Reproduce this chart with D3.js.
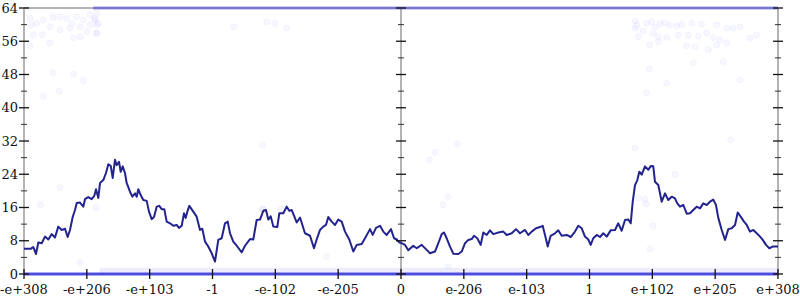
<!DOCTYPE html>
<html><head><meta charset="utf-8">
<script src="https://cdn.jsdelivr.net/npm/d3@7"></script>
<style>html,body{margin:0;padding:0;background:#fff;}svg{display:block;}</style>
</head><body>
<svg id="chart" width="800" height="300"></svg>
<script>
// x positions are in "tick units": -6 .. 6, one unit per labelled tick
const tickLabels = ["-e+308","-e+206","-e+103","-1","-e-102","-e-205","0","e-206","e-103","1","e+102","e+205","e+308"];
const tickPositions = [-6,-5,-4,-3,-2,-1,0,1,2,3,4,5,6];
const yMajor = [0,8,16,24,32,40,48,56,64];
const yMinor = [4,12,20,28,36,44,52,60];

const lineX = [-6.000,-5.889,-5.852,-5.809,-5.772,-5.718,-5.666,-5.613,-5.559,-5.507,-5.454,-5.400,-5.347,-5.305,-5.268,-5.225,-5.188,-5.161,-5.109,-5.056,-5.029,-4.977,-4.923,-4.881,-4.854,-4.817,-4.790,-4.738,-4.695,-4.658,-4.620,-4.588,-4.552,-4.525,-4.488,-4.461,-4.429,-4.393,-4.366,-4.313,-4.276,-4.233,-4.206,-4.181,-4.143,-4.101,-4.047,-4.011,-3.968,-3.931,-3.888,-3.847,-3.809,-3.767,-3.729,-3.676,-3.624,-3.570,-3.533,-3.490,-3.454,-3.427,-3.401,-3.369,-3.306,-3.252,-3.199,-3.162,-3.119,-3.067,-3.013,-2.960,-2.908,-2.854,-2.801,-2.758,-2.721,-2.669,-2.615,-2.535,-2.483,-2.403,-2.351,-2.297,-2.244,-2.192,-2.149,-2.112,-2.074,-2.032,-1.969,-1.937,-1.873,-1.819,-1.778,-1.740,-1.660,-1.607,-1.528,-1.448,-1.385,-1.342,-1.289,-1.237,-1.194,-1.157,-1.103,-1.050,-0.998,-0.944,-0.891,-0.823,-0.759,-0.705,-0.625,-0.573,-0.493,-0.450,-0.398,-0.334,-0.282,-0.228,-0.159,-0.111,-0.068,-0.027,0.000,0.064,0.116,0.196,0.250,0.329,0.409,0.462,0.541,0.594,0.648,0.684,0.727,0.780,0.832,0.912,0.966,1.019,1.071,1.125,1.162,1.214,1.268,1.310,1.364,1.416,1.469,1.549,1.628,1.682,1.762,1.830,1.894,1.973,2.026,2.080,2.149,2.212,2.255,2.292,2.335,2.382,2.451,2.503,2.558,2.637,2.701,2.769,2.822,2.876,2.928,2.981,3.019,3.060,3.115,3.167,3.220,3.274,3.337,3.406,3.458,3.512,3.565,3.618,3.656,3.688,3.724,3.761,3.793,3.831,3.883,3.936,3.979,4.015,4.042,4.095,4.149,4.202,4.254,4.308,4.361,4.397,4.440,4.493,4.547,4.599,4.652,4.706,4.759,4.811,4.865,4.918,4.970,5.013,5.050,5.104,5.157,5.209,5.263,5.316,5.359,5.406,5.459,5.502,5.554,5.607,5.661,5.714,5.757,5.809,5.862,5.916,6.000];
const lineY = [6.1,6.1,6.5,4.8,7.6,7.4,9.0,8.3,9.6,8.8,11.4,10.6,10.9,8.9,10.6,13.7,15.4,17.1,17.2,16.2,18.0,18.5,18.0,18.8,20.4,18.3,21.9,22.6,24.3,26.4,26.0,23.1,27.5,26.2,27.0,24.6,25.9,24.3,21.9,19.8,18.6,19.4,18.6,20.4,19.0,17.8,17.6,15.0,13.2,13.7,16.2,16.4,15.6,15.6,12.6,12.2,11.6,11.8,11.1,11.6,14.6,13.5,15.0,16.4,15.0,13.8,10.6,10.9,7.8,6.6,5.0,3.0,8.2,8.6,12.2,12.6,9.8,7.8,6.8,5.2,6.8,8.4,8.3,13.0,13.1,15.2,15.4,13.1,13.9,11.4,11.3,14.6,14.6,16.2,15.2,15.4,12.4,13.6,9.8,9.2,6.2,8.3,10.6,11.4,11.8,13.7,12.6,11.8,13.1,12.6,10.2,8.3,5.4,7.0,7.2,8.6,10.8,9.4,11.1,11.6,10.2,9.4,10.8,8.6,8.3,7.6,7.5,7.0,5.7,6.8,6.2,7.0,5.8,5.0,5.4,7.4,9.6,10.0,8.6,6.6,4.9,4.8,5.4,7.4,8.2,8.4,9.2,8.6,7.0,10.0,9.4,10.5,9.6,10.0,10.2,9.4,9.8,10.8,9.8,10.6,9.4,10.2,11.0,11.3,11.6,9.4,6.6,9.2,9.8,10.5,9.2,9.4,8.9,10.2,11.6,11.0,9.0,8.3,7.0,8.6,9.4,8.9,9.8,9.0,10.5,10.6,12.2,10.4,13.0,13.1,12.2,17.4,21.4,22.6,24.6,23.9,25.9,25.1,26.0,25.9,22.2,21.4,17.4,19.4,17.8,18.6,18.2,17.0,16.2,16.6,14.5,14.6,15.4,16.2,15.8,17.0,16.6,17.4,17.9,16.6,13.5,10.6,8.2,10.8,11.0,11.8,14.8,13.8,12.6,11.8,10.2,10.6,9.8,9.0,8.2,7.0,6.2,6.6,6.6];

// faint scattered points (x in tick units, y value)
const scatterX = [-5.904,-5.798,-5.693,-5.535,-5.428,-5.322,-5.163,-5.057,-4.951,-4.871,-4.819,-4.844,-5.109,-5.268,-5.428,-5.587,-5.852,-5.708,-4.999,-4.844,-5.587,-5.904,-5.216,-5.109,-5.535,-5.216,-5.057,-5.438,-5.693,-5.878,-4.951,-5.242,-4.871,-4.844,-4.844,-2.658,-2.138,-2.006,-1.819,-5.428,-5.741,-4.854,-5.109,-1.915,-2.202,-2.202,-2.202,-1.183,0.897,0.541,0.451,0.664,0.749,0.749,3.724,4.361,3.777,3.883,3.899,4.015,3.963,5.247,3.724,3.750,3.909,3.989,4.042,4.122,4.202,4.282,4.388,4.467,4.626,4.785,5.024,5.183,5.289,5.395,3.724,3.777,3.856,4.015,4.095,4.228,4.414,4.573,4.732,4.865,4.971,5.077,4.095,3.962,4.679,4.546,4.891,5.024,5.183,5.660,5.554,4.653,5.130,3.952,5.395,4.228,3.909];
const scatterY = [61.5,60.3,61.1,61.7,61.9,61.5,61.9,61.1,62.3,61.5,60.3,62.7,59.5,59.1,58.7,59.5,57.5,57.6,58.3,57.9,55.6,54.9,56.8,57.1,48.4,48.1,46.5,44.0,42.7,59.9,59.9,60.3,61.1,59.9,57.9,59.5,60.7,60.3,59.1,20.8,16.6,15.9,2.8,15.6,31.0,15.6,15.6,4.2,31.3,29.3,27.5,16.6,18.5,1.8,30.3,24.0,18.3,18.0,16.9,11.6,6.0,32.3,60.9,59.9,60.3,60.7,59.5,60.3,60.4,59.9,59.6,60.1,60.4,60.1,59.9,59.1,59.1,59.5,59.1,57.1,58.5,57.9,57.1,56.9,57.5,57.5,57.2,58.0,56.9,56.3,55.9,55.1,54.7,54.9,54.0,55.1,55.6,57.5,56.7,50.8,51.1,49.3,46.7,45.9,43.6];

// dense rows of overlapping points: value, x-range start, x-range end, density
const bandValues = [0, 0.9, 64];
const bandStarts = [-6, -4.8, -4.9];
const bandEnds = [6, 6, 6];
const bandOpacity = [0.85, 0.09, 0.5];

const svg = d3.select("#chart");
const x = d3.scaleLinear().domain([-6, 6]).range([24, 778]);
const y = d3.scaleLinear().domain([0, 64]).range([274, 8]);

const frameColor = "#b4b4b4";
// frame / axes lines (grey)
[-6, 0, 6].forEach(v => {
  svg.append("line").attr("x1", x(v)).attr("x2", x(v)).attr("y1", y(64)).attr("y2", y(0))
    .attr("stroke", frameColor).attr("stroke-width", 2);
});
svg.append("line").attr("x1", x(-6)).attr("x2", x(6)).attr("y1", y(64)).attr("y2", y(64))
  .attr("stroke", frameColor).attr("stroke-width", 2);
svg.append("line").attr("x1", x(-6)).attr("x2", x(6)).attr("y1", y(0)).attr("y2", y(0))
  .attr("stroke", frameColor).attr("stroke-width", 2);

// scattered faint points
svg.append("g").selectAll("circle").data(scatterX.map((d, i) => [d, scatterY[i]])).join("circle")
  .attr("cx", d => x(d[0])).attr("cy", d => y(d[1])).attr("r", 3)
  .attr("fill", "#6a6aff").attr("fill-opacity", 0.05)
  .attr("stroke", "#6a6aff").attr("stroke-opacity", 0.07).attr("stroke-width", 0.8);

// dense rows
bandValues.forEach((v, i) => {
  svg.append("line").attr("x1", x(bandStarts[i])).attr("x2", x(bandEnds[i]))
    .attr("y1", y(v)).attr("y2", y(v))
    .attr("stroke", "#3a3ae6").attr("stroke-opacity", bandOpacity[i]).attr("stroke-width", i === 1 ? 5 : 3);
});

// main line
svg.append("path").datum(lineX.map((d, i) => [d, lineY[i]]))
  .attr("fill", "none").attr("stroke", "#23238f").attr("stroke-width", 2)
  .attr("stroke-linejoin", "round")
  .attr("d", d3.line().x(d => x(d[0])).y(d => y(d[1])));

// ticks on the three vertical axes
const tickG = svg.append("g");
[-6, 0, 6].forEach(v => {
  yMajor.forEach(t => {
    tickG.append("line").attr("x1", x(v) - 5).attr("x2", x(v) + 5).attr("y1", y(t)).attr("y2", y(t))
      .attr("stroke", "#111").attr("stroke-width", 1.3);
  });
  yMinor.forEach(t => {
    tickG.append("line").attr("x1", x(v) - 3).attr("x2", x(v) + 3).attr("y1", y(t)).attr("y2", y(t))
      .attr("stroke", "#333").attr("stroke-width", 1);
  });
});
// x ticks
tickPositions.forEach(t => {
  tickG.append("line").attr("x1", x(t)).attr("x2", x(t)).attr("y1", y(0) - 5).attr("y2", y(0) + 5)
    .attr("stroke", "#111").attr("stroke-width", 1.3);
});

const font = "DejaVu Serif";
// y labels
svg.append("g").selectAll("text").data(yMajor).join("text")
  .attr("x", 18).attr("y", d => y(d)).attr("dy", "0.35em")
  .attr("text-anchor", "end").attr("font-family", font).attr("font-size", 13).attr("fill", "#111")
  .text(d => d);
// x labels
svg.append("g").selectAll("text").data(tickPositions).join("text")
  .attr("x", d => x(d)).attr("y", 294)
  .attr("text-anchor", "middle").attr("font-family", font).attr("font-size", 13).attr("fill", "#111")
  .text((d, i) => tickLabels[i]);
</script>
</body></html>
